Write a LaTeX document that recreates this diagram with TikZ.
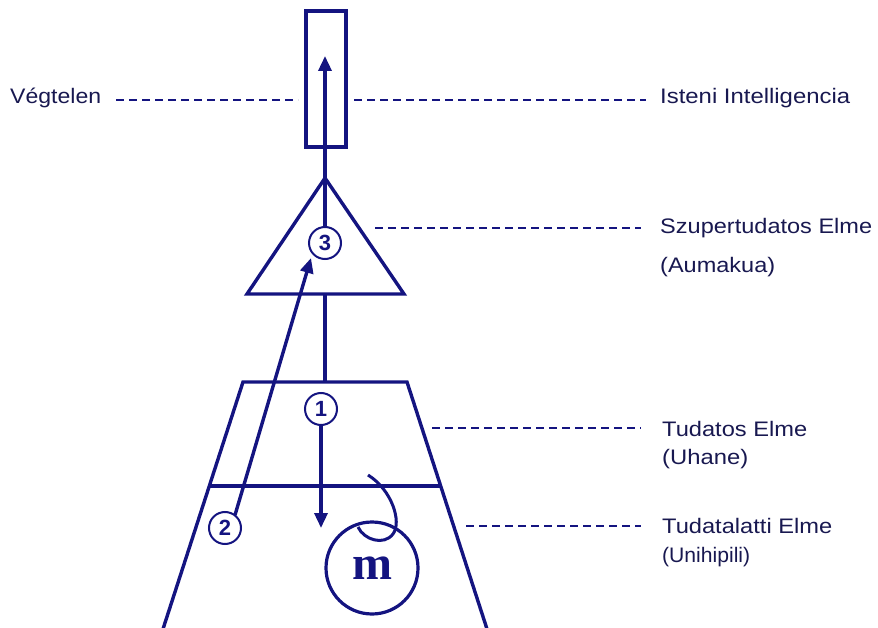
\documentclass[tikz,border=0pt]{standalone}
\usepackage{fontspec}
\setmainfont{Liberation Sans}
\newfontfamily\mserif{Liberation Serif}
\usetikzlibrary{arrows.meta}
\definecolor{navy}{RGB}{20,20,128}
\definecolor{txt}{RGB}{24,24,80}
\newcommand\fitw[2]{\resizebox{#1pt}{\height}{#2}}
\begin{document}
\begin{tikzpicture}[x=1pt,y=-1pt,
  shp/.style={draw=navy, line width=3.4pt, line join=miter},
  conn/.style={draw=navy, line width=3.4pt},
  arr/.style={conn, -{Triangle[length=15pt,width=13pt]}},
  guide/.style={draw=navy, line width=1.8pt, dash pattern=on 8pt off 5pt},
  lab/.style={anchor=base west, inner sep=0pt, text=txt, font=\fontsize{21}{24}\selectfont},
  num/.style={circle, draw=navy, line width=2pt, fill=white, minimum size=32pt, inner sep=0pt, text=navy, font=\fontsize{22}{24}\selectfont\bfseries},
]
\useasboundingbox (0,0) rectangle (878,628);

% shapes
\node[shp, minimum width=40pt, minimum height=136pt, inner sep=0pt] (inf) at (326,79) {};
\coordinate (apex) at (325,178);
\coordinate (tbl) at (247,294);
\coordinate (tbr) at (404,294);
\draw[shp] (apex) -- (tbl) -- (tbr) -- cycle;
\coordinate (ztl) at (243,382);
\coordinate (ztr) at (407,382);
\coordinate (zbl) at (163,629);
\coordinate (zbr) at (487,629);
\draw[shp] (zbl) -- (ztl) -- (ztr) -- (zbr);
\coordinate (ml) at (209,486);
\coordinate (mr) at (441,486);
\draw[shp] (ml) -- (mr);

% numbered circles
\node[num] (c3) at (325,243) {3};
\node[num] (c1) at (321,409) {1};
\node[num] (c2) at (225,528) {2};
\node[circle, draw=navy, line width=3.2pt, minimum size=92pt, inner sep=0pt, text=navy,
      font=\mserif\fontsize{48}{48}\selectfont\bfseries] (m) at (372,568) {m};

% connectors
\coordinate (tip3) at (325,56);
\draw[arr] (c3.north) -- (tip3);
\coordinate (tb) at (325,294);
\coordinate (zt) at (325,382);
\draw[conn] (tb) -- (zt);
\coordinate (tip1) at (321,528);
\draw[arr] (c1.south) -- (tip1);
\coordinate (tip2) at (311,258);
\draw[arr] (c2.north east) ++(-2,-1) -- (tip2);
\coordinate (hs) at (368,475);
\coordinate (he) at (358,527);
\draw[conn, line width=3pt] (hs) .. controls (392,490) and (402,522) .. (393,534)
  .. controls (384,546) and (364,540) .. (he);

% labels
\node[lab] (veg) at (10,104) {\fitw{91}{Végtelen}};
\node[lab] (ist) at (660,104) {\fitw{190}{Isteni Intelligencia}};
\node[lab] (szu) at (660,234) {\fitw{212}{Szupertudatos Elme}};
\node[lab] (aum) at (660,273) {\fitw{115}{(Aumakua)}};
\node[lab] (tud) at (662,436) {\fitw{145}{Tudatos Elme}};
\node[lab] (uha) at (662,464) {\fitw{86}{(Uhane)}};
\node[lab] (tda) at (662,533) {\fitw{170}{Tudatalatti Elme}};
\node[lab] (uni) at (662,562) {\fitw{88}{(Unihipili)}};

% dashed guides
\coordinate (g1a) at (116,100); \coordinate (g1b) at (298,100);
\coordinate (g2a) at (354,100); \coordinate (g2b) at (646,100);
\draw[guide] (g1a) -- (g1b);
\draw[guide] (g2a) -- (g2b);
\coordinate (g3a) at (375,228); \coordinate (g3b) at (641,228);
\draw[guide] (g3a) -- (g3b);
\coordinate (g4a) at (432,428); \coordinate (g4b) at (641,428);
\draw[guide] (g4a) -- (g4b);
\coordinate (g5a) at (466,526); \coordinate (g5b) at (641,526);
\draw[guide] (g5a) -- (g5b);
\end{tikzpicture}
\end{document}
